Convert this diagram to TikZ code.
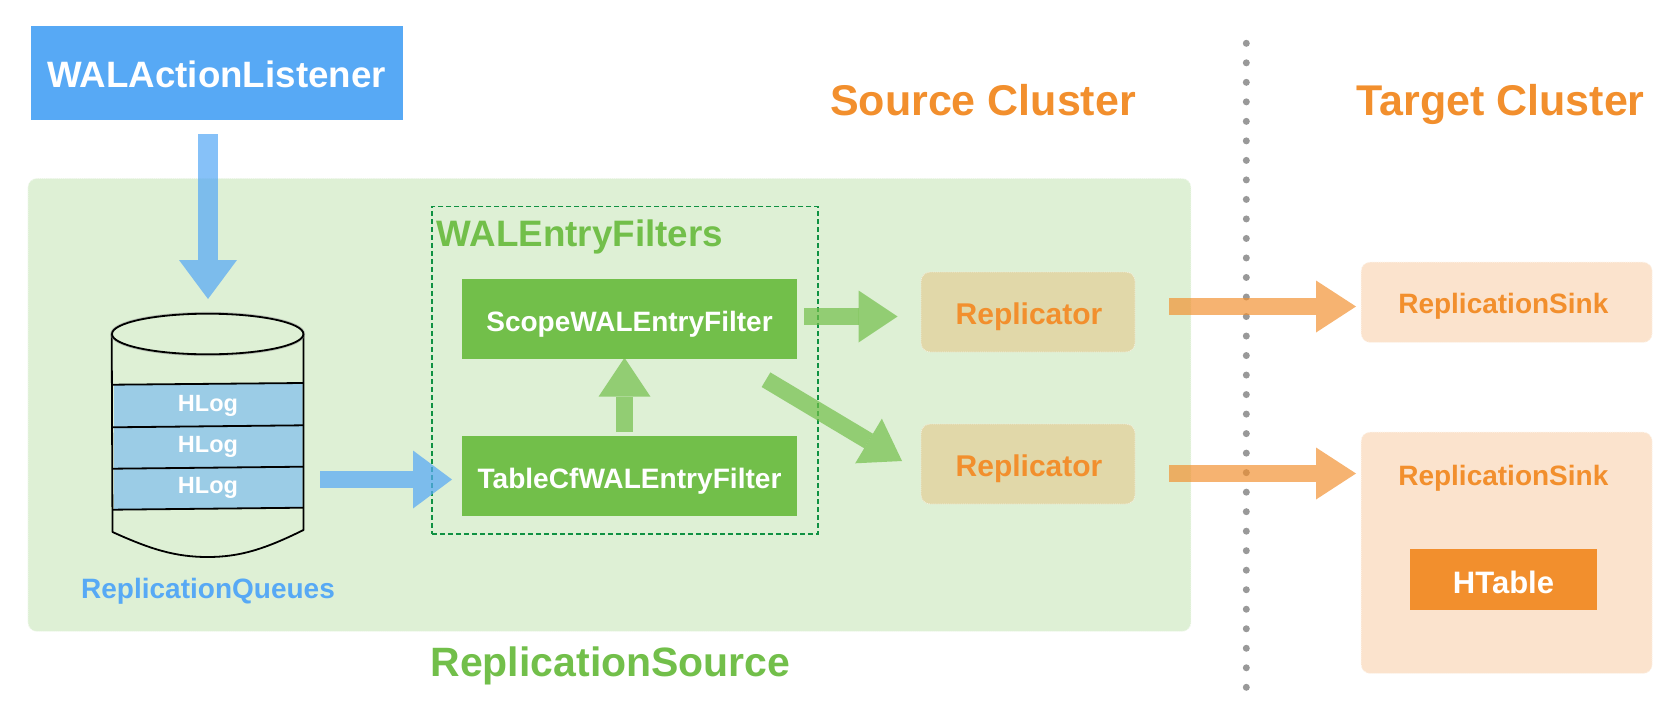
\documentclass[tikz,border=0pt]{standalone}
\usepackage{fontspec}
\setmainfont{Liberation Sans}
\usetikzlibrary{arrows.meta}
\definecolor{wblue}{HTML}{57A9F5}
\definecolor{wgreen}{HTML}{72BF4A}
\definecolor{worange}{HTML}{F28F2D}
\definecolor{panelg}{HTML}{DEF0D5}
\definecolor{repl}{HTML}{E1D8A9}
\definecolor{sinkc}{HTML}{FBE3CD}
\definecolor{hlog}{HTML}{9BCCE6}
\definecolor{dashg}{HTML}{0F9142}
\newcommand{\fsz}[1]{\fontsize{#1}{#1}\selectfont\bfseries}
\tikzset{
  x=1pt,y=-1pt,
  txt/.style={inner sep=0pt,font=\fsz{#1}},
  solidbox/.style={draw=none,inner sep=0pt,text=white},
  softbox/.style={draw=#1,densely dotted,line width=0.9pt,rounded corners=9pt,inner sep=0pt},
  blockb/.style={draw=wblue,opacity=.72,line width=#1},
  blockg/.style={draw=wgreen,opacity=.7,line width=#1},
  blocko/.style={draw=worange,opacity=.68,line width=#1},
  tipb/.style={-{Triangle[width=58pt,length=39pt,line width=0pt,color=wblue,fill=wblue]}},
  tipg/.style={-{Triangle[width=52pt,length=39pt,line width=0pt,color=wgreen,fill=wgreen]}},
  tipo/.style={-{Triangle[width=52pt,length=40pt,line width=0pt,color=worange,fill=worange]}},
  band/.style={fill=hlog,draw=none},
  cyl/.style={draw=black,line width=1.8pt,line join=round},
}
\begin{document}
\begin{tikzpicture}
\useasboundingbox (0,0) rectangle (1677,707);
% panel
\node[softbox=white!70!panelg,fill=panelg,minimum width=1163pt,minimum height=453pt,anchor=north west] (panel) at (27.5,178) {};
% separator
\coordinate (sepa) at (1246.3,43.3);
\coordinate (sepb) at (1246.3,690);
\draw[draw=black!40,line width=7pt,line cap=round,dash pattern=on 0pt off 19.515pt] (sepa) -- (sepb);
% WALActionListener
\node[solidbox,fill=wblue,minimum width=372pt,minimum height=94pt] (wal) at (217,73) {};
\node[txt=36.7,text=white] (walt) at (216.5,74.5) {WALActionListener};
% cylinder
\coordinate (cyl) at (207.7,334);
\fill[band] (114,384.5) -- (302.7,383) -- (302.7,508) -- (114,509.5) -- cycle;
\draw[cyl] (111.7,334) -- (112.5,532) .. controls (150,549) and (175,557) .. (207.7,557) .. controls (240,557) and (265,549) .. (303.5,530) -- (303.5,334);
\draw[black!45,line width=3.5pt,opacity=.5] (cyl) ellipse [x radius=95.7pt,y radius=20.3pt];
\draw[cyl,fill=panelg] (cyl) ellipse [x radius=95.7pt,y radius=20.3pt];
\draw[cyl] (112.5,384.7) -- (303,383);
\draw[cyl] (112.5,427.3) -- (303,425.3);
\draw[cyl] (112.5,468.7) -- (303,466.7);
\draw[cyl] (112.5,509.7) -- (303,507.7);
\node[txt=23.5,text=white] (h1) at (208,405.5) {HLog};
\node[txt=23.5,text=white] (h2) at (208,446.5) {HLog};
\node[txt=23.5,text=white] (h3) at (208,487.5) {HLog};
\node[txt=28,text=wblue] (rq) at (208,591.5) {ReplicationQueues};
% filters
\node[draw=dashg,dash pattern=on 5pt off 3pt,line width=1.5pt,inner sep=0pt,minimum width=386pt,minimum height=327.5pt,anchor=north west] (filters) at (431,205.7) {};
\node[txt=36.8,text=wgreen,anchor=west] (ftitle) at (436.7,237) {WALEntryFilters};
\node[solidbox,fill=wgreen,minimum width=335pt,minimum height=80pt] (scope) at (629.5,319) {};
\node[txt=28,text=white] (scopet) at (629.5,324) {ScopeWALEntryFilter};
\node[solidbox,fill=wgreen,minimum width=335pt,minimum height=80pt] (table) at (629.5,476) {};
\node[txt=28.1,text=white] (tablet) at (629.5,481) {TableCfWALEntryFilter};
% replicators
\node[softbox=white!60!repl,fill=repl,minimum width=214pt,minimum height=80pt] (r1) at (1028,312) {};
\node[txt=30,text=worange] (r1t) at (1029,317) {Replicator};
\node[softbox=white!60!repl,fill=repl,minimum width=214pt,minimum height=80pt] (r2) at (1028,464) {};
\node[txt=30,text=worange] (r2t) at (1029,469) {Replicator};
% sinks
\node[softbox=white!60!sinkc,fill=sinkc,minimum width=291pt,minimum height=80.3pt,anchor=north west] (s1) at (1360.7,261.7) {};
\node[txt=28,text=worange] (s1t) at (1503.3,306) {ReplicationSink};
\node[softbox=white!60!sinkc,fill=sinkc,minimum width=291pt,minimum height=241.3pt,anchor=north west] (s2) at (1360.7,431.7) {};
\node[txt=28,text=worange] (s2t) at (1503.3,478) {ReplicationSink};
\node[solidbox,fill=worange,minimum width=187pt,minimum height=61pt] (htable) at (1503.5,579.5) {};
\node[txt=31,text=white] (htablet) at (1503.5,582.5) {HTable};
% titles
\node[txt=43,text=worange] (src) at (983,100.5) {Source Cluster};
\node[txt=43,text=worange] (tgt) at (1500.5,104) {Target Cluster};
\node[txt=41,text=wgreen] (rs) at (610.5,666) {ReplicationSource};
% arrow ends
\coordinate (a1s) at (208,134); \coordinate (a1e) at (208,299);
\coordinate (a2s) at (320,479.5); \coordinate (a2e) at (452,479.5);
\coordinate (a3s) at (624.5,432); \coordinate (a3e) at (624.5,357.7);
\coordinate (a4s) at (804,316.5); \coordinate (a4e) at (897.5,316.5);
\coordinate (a5s) at (766,379.7); \coordinate (a5e) at (902,461);
\coordinate (a6s) at (1169,306.5); \coordinate (a6e) at (1356,306.5);
\coordinate (a7s) at (1169,473.5); \coordinate (a7e) at (1356,473.5);
% arrows
\draw[blockb=20pt,tipb] (a1s) -- (a1e);
\draw[blockb=17pt,tipb] (a2s) -- (a2e);
\draw[blockg=17pt,tipg] (a3s) -- (a3e);
\draw[blockg=17pt,tipg] (a4s) -- (a4e);
\draw[blockg=17pt,tipg] (a5s) -- (a5e);
\draw[blocko=17pt,tipo] (a6s) -- (a6e);
\draw[blocko=17pt,tipo] (a7s) -- (a7e);
\end{tikzpicture}
\end{document}
